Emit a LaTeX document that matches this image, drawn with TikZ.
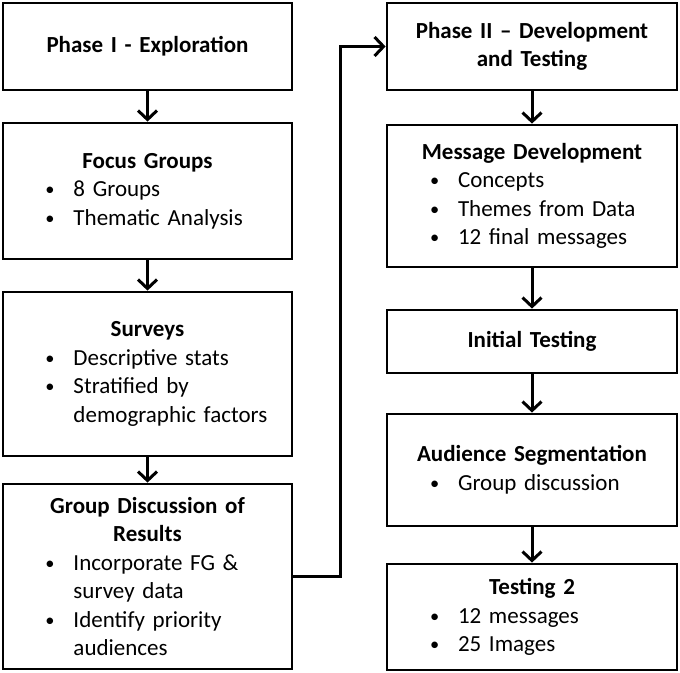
\documentclass[tikz,border=0pt]{standalone}
\usepackage{fontspec}
\setmainfont{Carlito}
\usetikzlibrary{arrows.meta}

\newcommand{\boxtitle}[1]{{\centering\bfseries #1\par}}
\newcommand{\nextline}{\hfil\break}
\newcommand{\bitem}[1]{\hangindent=65pt\hangafter=1\noindent\hspace*{37pt}\makebox[28pt][l]{\raisebox{1pt}{\scalebox{0.8}{\textbullet}}}#1\par}

\begin{document}
\begin{tikzpicture}[
                x=1pt, y=-1pt,
                stage/.style={draw, line width=2.8pt, inner sep=4pt,
                    text width=278pt, align=left,
                    font=\fontsize{23}{28.5}\selectfont},
                arr/.style={line width=3pt, -{Straight Barb[length=9pt,width=19pt]}}
            ]
            \useasboundingbox (0,0) rectangle (680,672);

            % phase I
            \node[stage, minimum width=289pt, minimum height=87pt] (phase1) at (147.5,46.5)
                {\boxtitle{Phase I - Exploration}};
            \node[stage, minimum width=289pt, minimum height=136pt] (focus) at (147.5,191)
                {\boxtitle{Focus Groups}
                 \bitem{8 Groups}
                 \bitem{Thematic Analysis}};
            \node[stage, minimum width=289pt, minimum height=164pt] (surveys) at (147.5,374)
                {\boxtitle{Surveys}
                 \bitem{Descriptive stats}
                 \bitem{Stratified by\nextline demographic factors}};
            \node[stage, minimum width=289pt, minimum height=185pt] (gdisc) at (147.5,576.5)
                {\boxtitle{Group Discussion of\\Results}
                 \bitem{Incorporate FG \&\nextline survey data}
                 \bitem{Identify priority\nextline audiences}};

            % phase II
            \node[stage, minimum width=290pt, minimum height=87pt] (phase2) at (532,46.5)
                {\boxtitle{Phase II -- Development\\and Testing}};
            \node[stage, minimum width=290pt, minimum height=142pt] (msgdev) at (532,196)
                {\boxtitle{Message Development}
                 \bitem{Concepts}
                 \bitem{Themes from Data}
                 \bitem{12 final messages}};
            \node[stage, minimum width=290pt, minimum height=63pt] (inittest) at (532,341.5)
                {\boxtitle{Initial Testing}};
            \node[stage, minimum width=290pt, minimum height=112pt] (segment) at (532,470)
                {\boxtitle{Audience Segmentation}
                 \bitem{Group discussion}};
            \node[stage, minimum width=290pt, minimum height=106pt] (test2) at (532,617)
                {\boxtitle{Testing 2}
                 \bitem{12 messages}
                 \bitem{25 Images}};

            \draw[arr] (phase1) -- (focus);
            \draw[arr] (focus) -- (surveys);
            \draw[arr] (surveys) -- (gdisc);
            \draw[arr] (phase2) -- (msgdev);
            \draw[arr] (msgdev) -- (inittest);
            \draw[arr] (inittest) -- (segment);
            \draw[arr] (segment) -- (test2);

            \coordinate (bend) at (340,576.5);
            \draw[arr] (gdisc.east) -- (bend) |- (phase2.west);
        \end{tikzpicture}
\end{document}
